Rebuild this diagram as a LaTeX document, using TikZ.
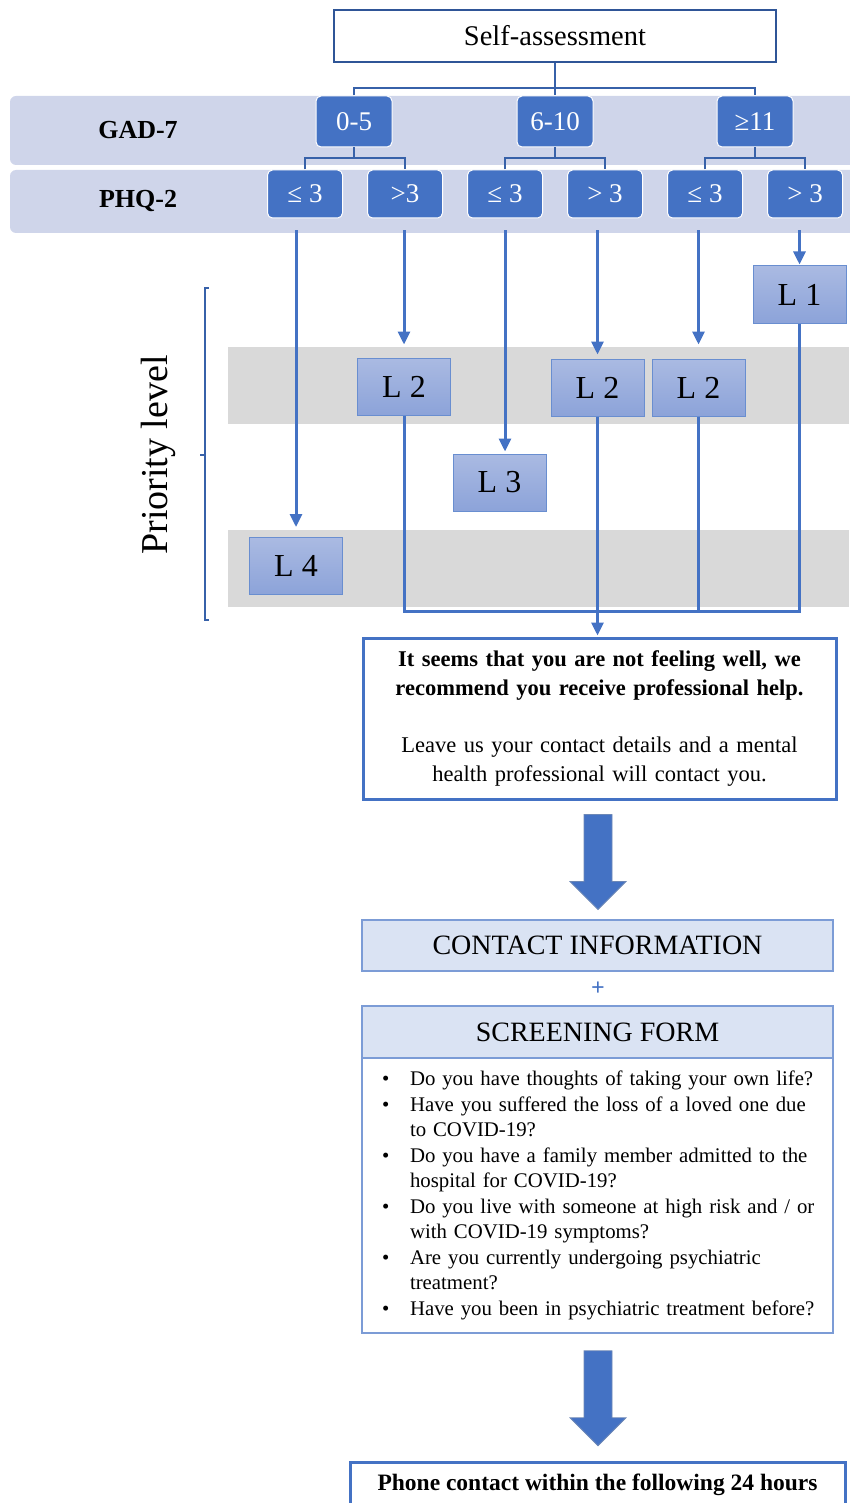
\documentclass[tikz,border=0pt]{standalone}
\usepackage{fontspec}
\setmainfont{Liberation Serif}
\usetikzlibrary{arrows.meta, positioning}

\definecolor{boxblue}{HTML}{4472C4}
\definecolor{darkblue}{HTML}{2F5597}
\definecolor{bandblue}{HTML}{CFD5EA}
\definecolor{bandgray}{HTML}{D9D9D9}
\definecolor{paleblue}{HTML}{DAE3F3}
\definecolor{ltop}{HTML}{AABAE2}
\definecolor{lbot}{HTML}{8CA3D9}

\begin{document}
\begin{tikzpicture}[
    x=1pt, y=-1pt,
    every node/.style={align=center, inner sep=0pt},
    topbox/.style={draw=darkblue, line width=2pt, fill=white, minimum width=442pt, minimum height=52pt, font=\fontsize{28.5}{32}\selectfont},
    gadbox/.style={draw=white, line width=1pt, rounded corners=5pt, fill=boxblue, text=white, minimum width=76pt, minimum height=51pt, font=\fontsize{27}{30}\selectfont},
    phqbox/.style={gadbox, minimum width=75pt, minimum height=48pt},
    levelbox/.style={draw=boxblue!80, line width=1pt, top color=ltop, bottom color=lbot, minimum width=93pt, minimum height=57pt, font=\fontsize{32}{36}\selectfont},
    rowlabel/.style={font=\bfseries\fontsize{26}{30}\selectfont},
    textbox/.style={draw=boxblue, line width=3pt, fill=white},
    headbox/.style={draw=boxblue!70, line width=1.5pt, fill=paleblue, minimum width=471pt, minimum height=51pt, font=\fontsize{28}{32}\selectfont},
    tree/.style={darkblue!60!boxblue, line width=2pt},
    link/.style={boxblue, line width=3pt},
    arrow/.style={link, -{Triangle[length=13pt, width=12pt]}, shorten <=12pt},
    bigarrow/.style={fill=boxblue, draw=darkblue!70, line width=0.8pt}
]
    \useasboundingbox (0,0) rectangle (849,1503);

    % Bands
    \fill[bandblue, rounded corners=6pt] (10,96) rectangle (870,165);
    \fill[bandblue, rounded corners=6pt] (10,170) rectangle (870,233);
    \fill[bandgray] (228,347) rectangle (849,424);
    \fill[bandgray] (228,530) rectangle (849,607);

    % Top of the tree
    \node[topbox] (self) at (555,36) {Self-assessment};

    \node[rowlabel] (gadlabel) at (138,130) {GAD-7};
    \node[rowlabel] (phqlabel) at (138,201) {PHQ-2};

    \node[gadbox] (g1) at (354,121.5) {0-5};
    \node[gadbox] (g2) at (555,121.5) {6-10};
    \node[gadbox] (g3) at (755,121.5) {≥11};

    \node[phqbox] (p1) at (305,194) {≤ 3};
    \node[phqbox] (p2) at (405,194) {>3};
    \node[phqbox] (p3) at (505,194) {≤ 3};
    \node[phqbox] (p4) at (605,194) {> 3};
    \node[phqbox] (p5) at (705,194) {≤ 3};
    \node[phqbox] (p6) at (805,194) {> 3};

    \draw[tree] (self.south) -- (g2.north);
    \draw[tree] (g1.north) |- ([yshift=-25pt]self.south) -| (g3.north);
    \draw[tree] (g1.south) -- ([yshift=-11pt]g1.south);
    \draw[tree] (p1.north) |- ([yshift=-11pt]g1.south) -| (p2.north);
    \draw[tree] (g2.south) -- ([yshift=-11pt]g2.south);
    \draw[tree] (p3.north) |- ([yshift=-11pt]g2.south) -| (p4.north);
    \draw[tree] (g3.south) -- ([yshift=-11pt]g3.south);
    \draw[tree] (p5.north) |- ([yshift=-11pt]g3.south) -| (p6.north);

    % Priority levels
    \draw[darkblue!60!boxblue, line width=1.5pt] (209,288) -- (205,288) -- (205,620) -- (209,620) (205,455) -- (200,455);
    \node[rotate=90, font=\fontsize{38}{42}\selectfont] (prio) at (158,455) {Priority level};

    \node[levelbox] (l1) at (799.5,294.5) {L 1};
    \node[levelbox] (l2a) at (404,386.5) {L 2};
    \node[levelbox] (l2b) at (597.5,387.5) {L 2};
    \node[levelbox] (l2c) at (698.5,387.5) {L 2};
    \node[levelbox] (l3) at (499.5,482.5) {L 3};
    \node[levelbox] (l4) at (296,566) {L 4};

    \draw[arrow, shorten >=10pt] (p1.south -| l4.north) -- (l4.north);
    \draw[arrow, shorten >=13pt] (p2.south -| l2a.north) -- (l2a.north);
    \draw[arrow, shorten >=2pt] (p3.south) -- (p3.south |- l3.north);
    \draw[arrow, shorten >=4pt] (p4.south -| l2b.north) -- (l2b.north);
    \draw[arrow, shorten >=14pt] (p5.south -| l2c.north) -- (l2c.north);
    \draw[arrow, shorten >=1pt] (p6.south -| l1.north) -- (l1.north);

    % Advice
    \node[textbox, minimum width=473pt, minimum height=161pt, text width=460pt, font=\fontsize{22.5}{29}\selectfont] (advice) at (599.5,718.5)
        {{\bfseries It seems that you are not feeling well, we\\ recommend you receive professional help.}\\[28pt]
         Leave us your contact details and a mental\\ health professional will contact you.};

    \coordinate (merge) at (597.5,611);
    \draw[link] (l2a.south) |- (merge) -| (l1.south);
    \draw[link] (l2c.south) -- (l2c.south |- merge);
    \draw[arrow, shorten <=0pt, shorten >=1pt] (l2b.south) -- (l2b.south |- advice.north);

    % Contact and screening
    \node[headbox] (contact) at (597.5,945.5) {CONTACT INFORMATION};
    \node[text=boxblue, font=\bfseries\fontsize{24}{28}\selectfont] (plus) at (598,989) {+};
    \node[headbox, minimum height=52pt] (screenhead) at (597.5,1032) {SCREENING FORM};
    \node[draw=boxblue!70, line width=1.5pt, fill=white, minimum width=471pt, minimum height=275pt, text width=431pt, align=left, font=\fontsize{20.8}{25.5}\selectfont] (screenbody) at (597.5,1195.5)
        {\begin{tabular}{@{}p{28pt}@{}l@{}}
         \textbullet & Do you have thoughts of taking your own life?\\
         \textbullet & Have you suffered the loss of a loved one due\\
                     & to COVID-19?\\
         \textbullet & Do you have a family member admitted to the\\
                     & hospital for COVID-19?\\
         \textbullet & Do you live with someone at high risk and / or\\
                     & with COVID-19 symptoms?\\
         \textbullet & Are you currently undergoing psychiatric\\
                     & treatment?\\
         \textbullet & Have you been in psychiatric treatment before?
         \end{tabular}};

    \node[textbox, minimum width=495pt, minimum height=46pt, font=\bfseries\fontsize{23.5}{27}\selectfont] (phone) at (597.5,1485) {Phone contact within the following 24 hours};

    % Block arrows
    \fill[bigarrow] (advice.south -| 598,0) ++(-14,14) -- ++(28,0) -- ++(0,67) -- ++(14,0) -- ++(-28,28) -- ++(-28,-28) -- ++(14,0) -- cycle;
    \fill[bigarrow] (screenbody.south -| 598,0) ++(-14,17) -- ++(28,0) -- ++(0,67) -- ++(14,0) -- ++(-28,28) -- ++(-28,-28) -- ++(14,0) -- cycle;
\end{tikzpicture}
\end{document}
